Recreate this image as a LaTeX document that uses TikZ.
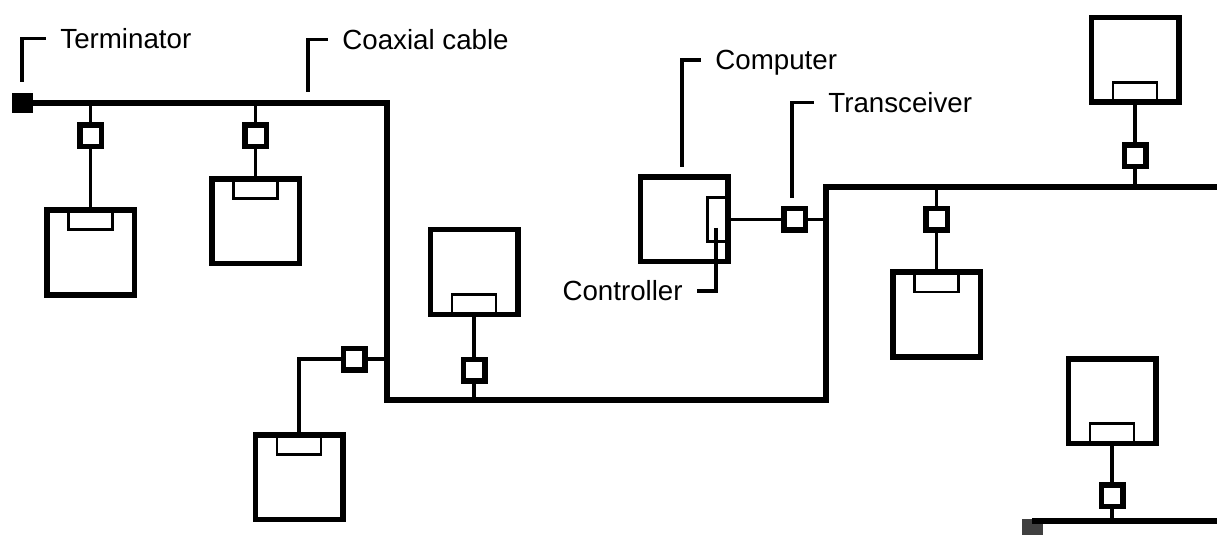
\documentclass[tikz,border=0pt]{standalone}
\usepackage{fontspec}
\setmainfont{Liberation Sans}
\begin{document}
\begin{tikzpicture}[x=0.5pt, y=-0.5pt,
  pc/.style={draw, line width=2.75pt, fill=white, inner sep=0pt,
             minimum width=43.75pt, minimum height=42.25pt},
  ctl/.style={draw, line width=1.3pt, inner sep=0pt,
              minimum width=22pt, minimum height=10.5pt},
  tx/.style={draw, line width=2.75pt, fill=white, inner sep=0pt, minimum size=10.75pt},
  term/.style={fill=black, inner sep=0pt, minimum width=10.5pt, minimum height=10pt},
  cable/.style={line width=3pt},
  stub/.style={line width=1.75pt},
  leader/.style={line width=1.6pt, shorten >=7pt},
  lbl/.style={font=\fontsize{13.85pt}{16pt}\selectfont, inner sep=0pt,
              text height=9.9pt, text depth=0pt}]

  \useasboundingbox (0,0) rectangle (1217,535);

  % --- Computers with controller ---
  \foreach \n/\x/\y/\a in {1/90.5/252.5/north, 2/255.5/221.5/north,
                           3/299/477/north, 4/474/272/south,
                           6/1135/60/south, 7/936.5/314.5/north,
                           8/1112/401/south}{
    \node[pc] (pc\n) at (\x,\y) {};
    \node[ctl, anchor=\a] (ctl\n) at (pc\n.\a) {};
  }
  \node[pc] (pc5) at (684,219.5) {};
  \node[ctl, minimum width=11pt, minimum height=22pt, anchor=east]
    (ctl5) at (pc5.east) {};

  % --- Transceivers ---
  \foreach \n/\x/\y in {1/90.5/136, 2/255.5/136, 3/354/359, 4/474/370,
                        5/794.5/219.5, 6/1135/156, 7/936.5/219.5, 8/1112/495.5}
    \node[tx] (tx\n) at (\x,\y) {};

  % --- Coaxial cable ---
  \node[term] (term1) at (22,103.5) {};
  \node[term, fill=black!75] (term2) at (1032,529) {};
  \coordinate (bend1) at (386.5,103.5);
  \coordinate (bend2) at (386.5,400);
  \coordinate (bend3) at (826,400);
  \coordinate (bend4) at (826,187.5);
  \coordinate (end1) at (1217,187.5);
  \coordinate (end2) at (1217,520.5);
  \draw[cable] (term1.center) -- (bend1) -- (bend2) -- (bend3) -- (bend4) -- (end1);
  \draw[cable] (term2.center |- end2) -- (end2);

  % --- Stubs ---
  \draw[stub] (tx1.north) -- (tx1 |- bend1) (tx1.south) -- (pc1.north);
  \draw[stub] (tx2.north) -- (tx2 |- bend1) (tx2.south) -- (pc2.north);
  \draw[stub] (tx3.east) -- (tx3 -| bend1) (tx3.west) -| (pc3.north);
  \draw[stub] (pc4.south) -- (tx4.north) (tx4.south) -- (tx4 |- bend2);
  \draw[stub] (pc5.east) -- (tx5.west) (tx5.east) -- (tx5 -| bend4);
  \draw[stub] (pc6.south) -- (tx6.north) (tx6.south) -- (tx6 |- end1);
  \draw[stub] (tx7.north) -- (tx7 |- end1) (tx7.south) -- (pc7.north);
  \draw[stub] (pc8.south) -- (tx8.north) (tx8.south) -- (tx8 |- end2);

  % --- Labels ---
  \node[lbl, anchor=west] (lbTerm) at (60,38.5) {Terminator};
  \node[lbl, anchor=west] (lbCoax) at (342,39.5) {Coaxial cable};
  \node[lbl, anchor=west] (lbComp) at (715,60) {Computer};
  \node[lbl, anchor=west] (lbTx) at (828,102.5) {Transceiver};
  \node[lbl, anchor=east] (lbCtl) at (683,291) {Controller};

  \coordinate (tipTerm) at (22,82);
  \coordinate (tipCoax) at (308,92);
  \coordinate (tipComp) at (682,167);
  \coordinate (tipTx) at (792,198);
  \coordinate (tipCtl) at (716,228);
  \draw[leader] (tipTerm) |- (lbTerm.west);
  \draw[leader] (tipCoax) |- (lbCoax.west);
  \draw[leader] (tipComp) |- (lbComp.west);
  \draw[leader] (tipTx) |- (lbTx.west);
  \draw[leader] (tipCtl) |- (lbCtl.east);

\end{tikzpicture}
\end{document}
